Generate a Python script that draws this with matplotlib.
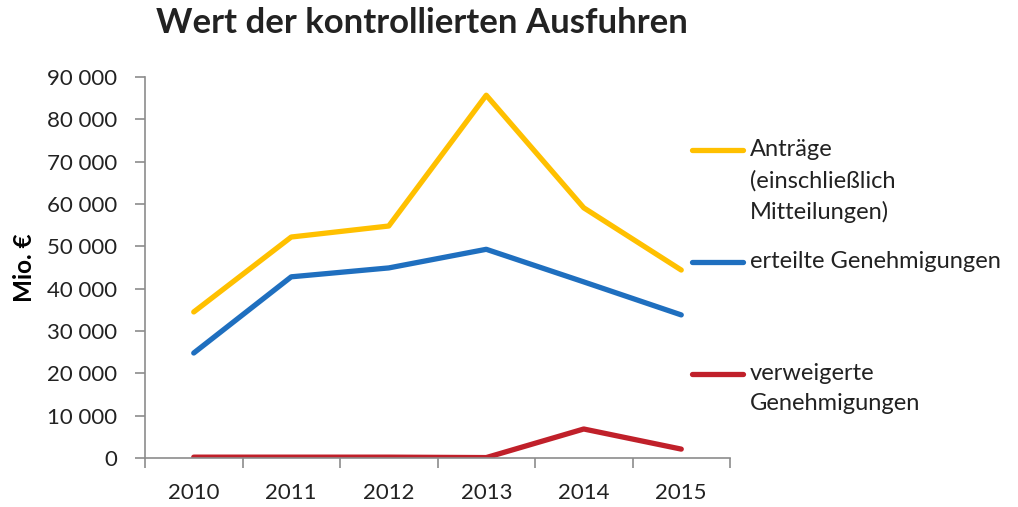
import matplotlib
matplotlib.use("Agg")
import matplotlib.pyplot as plt
from matplotlib.lines import Line2D

years = ["2010", "2011", "2012", "2013", "2014", "2015"]
antraege = [34500, 52200, 54800, 85700, 59100, 44400]
erteilt = [24800, 42800, 44900, 49300, 41600, 33800]
verweigert = [200, 200, 200, 100, 6850, 2100]
labels = ["Anträge\n(einschließlich\nMitteilungen)", "erteilte Genehmigungen",
          "verweigerte\nGenehmigungen"]
colors = ["#FFC000", "#1F6FBF", "#C0202A"]
yticks = list(range(0, 90001, 10000))

plt.rcParams['font.family'] = ['Lato', 'DejaVu Sans']
fig = plt.figure(figsize=(10.18, 5.07), dpi=100)
ax = fig.add_axes([145/1018, 1-458/507, (730-145)/1018, (458-77)/507])

x = list(range(len(years)))
for series, c in zip([antraege, erteilt, verweigert], colors):
    ax.plot(x, series, color=c, lw=3.8, solid_capstyle='round', solid_joinstyle='round')

ax.set_xlim(-0.5, 5.5)
ax.set_ylim(0, 90000)
ax.set_yticks(yticks)
ax.set_yticklabels([f"{v:,}".replace(",", " ") for v in yticks], fontsize=16, color="#222222")
ax.set_xticks(x)
ax.set_xticklabels(years, fontsize=16, color="#222222")
ax.set_xticks([i - 0.5 for i in range(len(years) + 1)], minor=True)
ax.tick_params(axis='x', which='major', length=0, pad=18)
ax.tick_params(axis='x', which='minor', length=7, color="#8c8c8c", width=1.2, direction='out')
ax.tick_params(axis='y', length=7, color="#8c8c8c", width=1.2, direction='out', pad=13)
for s in ['top', 'right']:
    ax.spines[s].set_visible(False)
for s in ['left', 'bottom']:
    ax.spines[s].set_color("#8c8c8c")
    ax.spines[s].set_linewidth(1.2)

ax.set_ylabel("Mio. €", fontsize=17.5, fontweight='bold')
ax.yaxis.set_label_coords(-(145 - 36) / 585, 0.5)
fig.text(422/1018, 1-23/507, "Wert der kontrollierten Ausfuhren", fontsize=25,
         fontweight='bold', ha='center', va='center', color="#222222")

# legend
ys = [150, 262, 374]
for lab, c, yy in zip(labels, colors, ys):
    fy = 1 - yy/507
    fig.add_artist(Line2D([692/1018, 743/1018], [fy, fy], color=c, lw=3.8,
                          solid_capstyle='round', transform=fig.transFigure))
    fig.text(750/1018, fy + 11/507, lab, fontsize=17, ha='left', va='top',
             color="#222222", linespacing=1.55)

fig.savefig("out.png", dpi=100)
